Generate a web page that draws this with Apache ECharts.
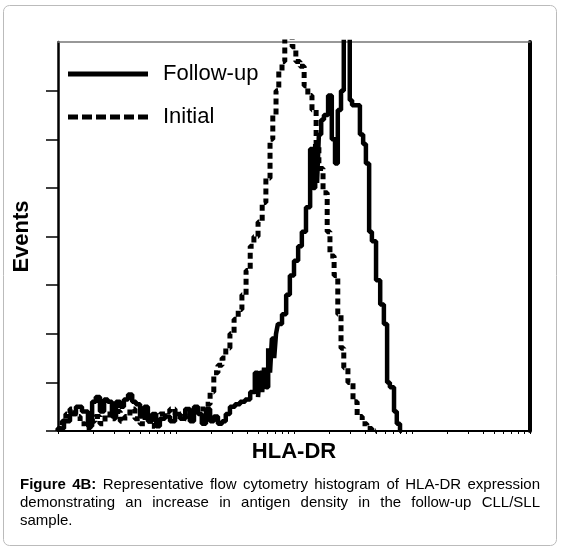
<!DOCTYPE html>
<html>
<head>
<meta charset="utf-8">
<script src="https://cdn.jsdelivr.net/npm/echarts@6/dist/echarts.min.js"></script>
<style>
  html, body { margin: 0; padding: 0; background: #fff; }
  #chart { width: 561px; height: 551px; }
</style>
</head>
<body>
<div id="chart"></div>
<script>
// HLA-DR fluorescence, 1024 channels over 4 log decades
const followUpCh = [0, 13, 26, 39, 52, 65, 74, 82, 91, 100, 108, 117, 126, 135, 143, 152, 161, 169, 178, 187,
  195, 204, 213, 221, 232, 243, 254, 265, 276, 286, 295, 304, 312, 321, 330, 338, 347, 356, 364, 373,
  384, 395, 406, 417, 427, 434, 438, 443, 447, 451, 456, 460, 464, 469, 473, 477, 486, 495, 503, 512,
  521, 529, 538, 547, 553, 558, 562, 566, 571, 577, 586, 594, 601, 607, 614, 620, 625, 633, 638, 647,
  655, 662, 668, 675, 681, 690, 699, 707, 714, 720, 729, 735, 742, 746]
const followUpVal = [0, 0.05, 0.2, 0.35, 0.5, 0.4, 0.1, 0.6, 0.7, 0.4, 0.65, 0.6, 0.3, 0.6, 0.5, 0.65, 0.75, 0.6, 0.55, 0.3,
  0.5, 0.2, 0.35, 0.1, 0.25, 0.3, 0.2, 0.35, 0.25, 0.45, 0.2, 0.5, 0.35, 0.15, 0.45, 0.2, 0.3, 0.15, 0.2, 0.35,
  0.5, 0.55, 0.6, 0.65, 0.8, 1.2, 0.7, 1.2, 0.8, 1.3, 0.9, 1.7, 1.2, 1.9, 1.5, 2.0, 2.2, 2.4, 2.8, 3.2,
  3.5, 3.8, 4.1, 4.6, 5.8, 5.0, 5.9, 5.1, 6.1, 6.4, 6.5, 6.9, 6.0, 5.5, 6.6, 7.0, 8.4, 8.4, 6.8, 6.7,
  6.7, 6.1, 5.9, 5.5, 4.1, 3.9, 3.1, 2.6, 2.2, 1.0, 0.9, 0.4, 0.15, 0]

const initialCh = [0, 9, 17, 26, 37, 48, 59, 69, 80, 91, 102, 113, 124, 135, 145, 156, 167, 178, 189, 200,
  210, 221, 232, 243, 254, 265, 276, 286, 297, 308, 319, 330, 338, 347, 356, 364, 373, 382, 391, 399,
  408, 417, 425, 434, 443, 451, 460, 466, 473, 479, 486, 492, 499, 508, 516, 525, 534, 542, 551, 560,
  566, 575, 584, 590, 599, 607, 614, 620, 629, 640, 649, 660, 670, 681, 690]
const initialVal = [0, 0.05, 0.2, 0.35, 0.45, 0.3, 0.15, 0.05, 0.2, 0.3, 0.15, 0.35, 0.25, 0.4, 0.2, 0.3, 0.45, 0.25, 0.15, 0.3,
  0.1, 0.2, 0.35, 0.4, 0.45, 0.3, 0.35, 0.25, 0.3, 0.4, 0.45, 0.55, 0.8, 1.2, 1.35, 1.5, 1.7, 2.0, 2.3, 2.5,
  2.8, 3.3, 3.8, 4.0, 4.3, 4.7, 5.2, 6.0, 6.5, 7.0, 7.4, 7.6, 8.2, 8.3, 7.9, 7.6, 7.5, 7.1, 6.9, 6.6,
  5.9, 5.4, 4.9, 4.1, 3.6, 3.2, 2.4, 1.7, 1.3, 1.0, 0.6, 0.3, 0.15, 0.05, 0]

const seriesNames = ['Follow-up', 'Initial']
const xName = 'HLA-DR'
const yName = 'Events'
const yTicks = [0, 1, 2, 3, 4, 5, 6, 7]
const captionLines = [
  [['Figure 4B:', true], ['Representative flow cytometry histogram of HLA-DR expression', false]],
  [['demonstrating an increase in antigen density in the follow-up CLL/SLL', false]],
  [['sample.', false]]
]

// log decade ticks along the channel axis
const xTicks = []
for (let d = 0; d < 4; d++) {
  for (let k = 1; k < 10; k++) xTicks.push(Math.round(256 * (d + Math.log10(k))))
}
xTicks.push(1024)

const pair = (xs, ys) => xs.map((x, i) => [x, ys[i]])

// legend keys: a solid bar and six dashes
const solidIcon = 'path://M0,0h80v5h-80z'
const dashIcon = 'path://M0,0h10v5h-10z M14,0h10v5h-10z M28,0h10v5h-10z M42,0h10v5h-10z M56,0h10v5h-10z M70,0h10v5h-10z'

// justified caption built from single words
const measure = document.createElement('canvas').getContext('2d')
const capFont = b => (b ? 'bold ' : '') + '15px Arial'
const capLeft = 20, capRight = 540, capTop = 485, capStep = 18
const captionEls = []
captionLines.forEach((parts, li) => {
  const words = []
  parts.forEach(([txt, bold]) => txt.split(' ').forEach(w => words.push({ w, bold })))
  let total = 0
  words.forEach(o => { measure.font = capFont(o.bold); o.width = measure.measureText(o.w).width; total += o.width })
  const last = li === captionLines.length - 1
  const gap = last ? measure.measureText(' ').width : (capRight - capLeft - total) / (words.length - 1)
  let x = capLeft
  words.forEach(o => {
    captionEls.push({
      type: 'text', x: x, y: capTop + li * capStep,
      style: { text: o.w, font: capFont(o.bold), fill: '#000', verticalAlign: 'middle' }
    })
    x += o.width + gap
  })
})

const chart = echarts.init(document.getElementById('chart'))

chart.setOption({
  animation: false,
  textStyle: { fontFamily: 'Arial' },
  grid: { left: 58, right: 31, top: 42, bottom: 120 },
  legend: {
    data: [
      { name: seriesNames[0], icon: solidIcon },
      { name: seriesNames[1], icon: dashIcon }
    ],
    orient: 'vertical',
    left: 63,
    top: 56,
    itemWidth: 80,
    itemHeight: 5,
    itemGap: 17,
    itemStyle: { color: '#000', borderWidth: 0 },
    textStyle: { fontSize: 22, color: '#000', lineHeight: 26, padding: [0, 0, 0, 10] }
  },
  xAxis: [
    {
      type: 'value', min: 0, max: 1024,
      name: xName, nameLocation: 'middle', nameGap: 10,
      nameTextStyle: { fontSize: 22, fontWeight: 'bold', color: '#000', verticalAlign: 'top' },
      axisLine: { onZero: false, lineStyle: { color: '#000', width: 2 } },
      axisTick: { customValues: xTicks, length: 3, lineStyle: { color: '#000', width: 1 } },
      axisLabel: { show: false },
      splitLine: { show: false }
    },
    {
      type: 'value', min: 0, max: 1024, position: 'top',
      axisLine: { show: true, onZero: false, lineStyle: { color: '#777', width: 1.5 } },
      axisTick: { show: false }, axisLabel: { show: false }, splitLine: { show: false }
    }
  ],
  yAxis: [
    {
      type: 'value', min: 0, max: 8, interval: 1,
      name: yName, nameLocation: 'middle', nameGap: 25,
      nameTextStyle: { fontSize: 22, fontWeight: 'bold', color: '#000' },
      axisLine: { show: true, onZero: false, lineStyle: { color: '#000', width: 2.5 } },
      axisTick: { show: true, customValues: yTicks, length: 12, lineStyle: { color: '#000', width: 1.5 } },
      axisLabel: { show: false },
      splitLine: { show: false }
    },
    {
      type: 'value', min: 0, max: 8, position: 'right',
      axisLine: { show: true, onZero: false, lineStyle: { color: '#000', width: 4 } },
      axisTick: { show: false }, axisLabel: { show: false }, splitLine: { show: false }
    }
  ],
  series: [
    {
      name: seriesNames[0], type: 'line', step: 'start', symbol: 'none',
      data: pair(followUpCh, followUpVal),
      lineStyle: { color: '#000', width: 4.5 },
      itemStyle: { color: '#000' }
    },
    {
      name: seriesNames[1], type: 'line', step: 'start', symbol: 'none',
      data: pair(initialCh, initialVal),
      lineStyle: { color: '#000', width: 5, type: [6, 4] },
      itemStyle: { color: '#000' }
    }
  ],
  graphic: [
    {
      type: 'rect', z: -10, silent: true,
      shape: { x: 3.5, y: 5.5, width: 553, height: 540, r: 6 },
      style: { fill: 'none', stroke: '#bbb', lineWidth: 1 }
    }
  ].concat(captionEls)
})
</script>
</body>
</html>
